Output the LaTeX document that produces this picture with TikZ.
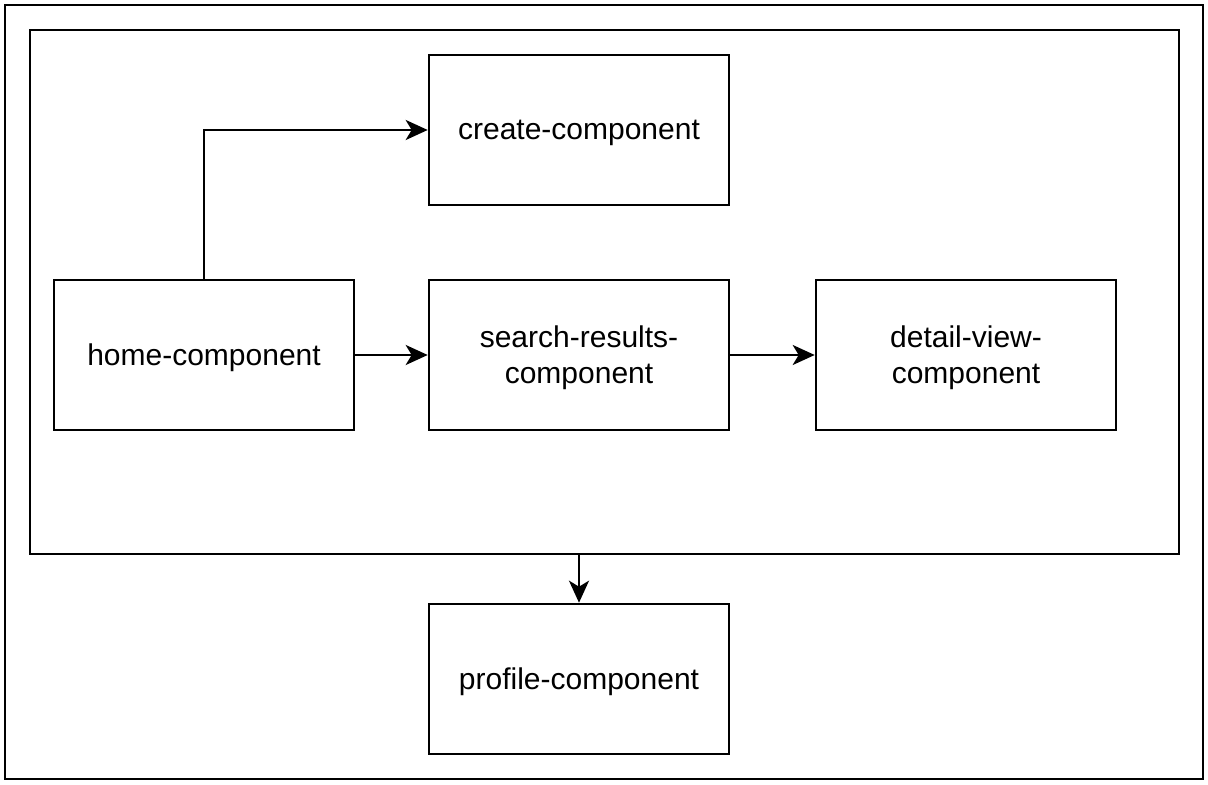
\documentclass[tikz,border=0pt]{standalone}
\usepackage{fontspec}
\setmainfont{Liberation Sans}
\usepackage{tikz}
\usetikzlibrary{arrows, arrows.meta, positioning, calc}
\tikzstyle{arrow} = [line width=1.3pt,-{Stealth[length=11pt, width=10pt, inset=3pt]}]
\tikzstyle{component} = [rectangle, minimum width=150pt, minimum height=75pt, text centered, align=center, draw=black, line width=1.3pt, font=\fontsize{15}{18}\selectfont]
\newcommand{\lowered}[1]{\raisebox{-1.6pt}[\height][\depth]{#1}}

\begin{document}
\begin{tikzpicture}[x=0.5pt, y=-0.5pt]
    \useasboundingbox (0,0) rectangle (1208,785);
    % Frames
    \draw[line width=1.3pt] (5,5) rectangle (1203,779);
    \node[draw=black, line width=1.3pt, minimum width=574.5pt, minimum height=262pt, inner sep=0pt] (app) at (604.5,292) {};
    
    % Components
    \node[component] (home) at (204,355) {\lowered{home-component}};
    \node[component] (search) at (579,355) {\lowered{search-results-}\\\lowered{component}};
    \node[component] (create) at (579,130) {\lowered{create-component}};
    \node[component] (detail) at (966,355) {\lowered{detail-view-}\\\lowered{component}};
    \node[component] (profile) at (579,679) {\lowered{profile-component}};
    
    % Routes
    \draw[arrow] (home.north) |- (create.west);
    \draw[arrow] (home) -- (search);
    \draw[arrow] (search) -- (detail);
    \draw[arrow] (profile.north |- app.south) -- (profile.north);
    
\end{tikzpicture}
\end{document}
